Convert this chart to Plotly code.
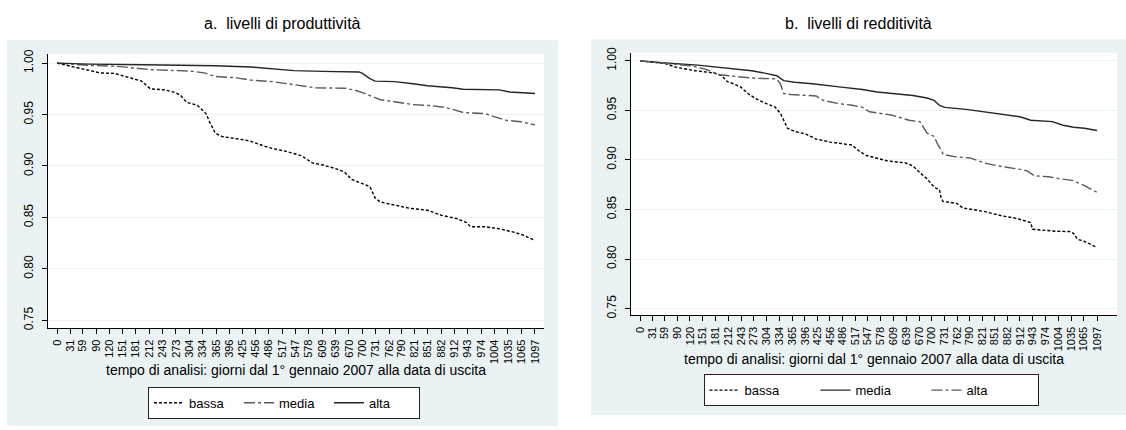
import plotly.graph_objects as go

# ---------------- data ----------------
tick_days = [0, 31, 59, 90, 120, 151, 181, 212, 243, 273, 304, 334, 365, 396, 425, 456,
             486, 517, 547, 578, 609, 639, 670, 700, 731, 762, 790, 821, 851, 882, 912,
             943, 974, 1004, 1035, 1065, 1097]
y_ticks = [0.75, 0.80, 0.85, 0.90, 0.95, 1.00]
y_tick_labels = ["0.75", "0.80", "0.85", "0.90", "0.95", "1.00"]

# panel a: livelli di produttività
a_bassa_days = [0, 66, 99, 132, 165, 194, 214, 247, 272, 285, 297, 322, 342, 350, 363, 379,
                429, 445, 478, 495, 528, 561, 586, 610, 643, 660, 676, 701, 718, 730, 742,
                775, 808, 850, 883, 916, 940, 949, 981, 1015, 1048, 1072, 1097]
a_bassa_vals = [1.0, 0.9937, 0.9905, 0.990, 0.9857, 0.9825, 0.975, 0.974, 0.9714, 0.968,
                0.962, 0.959, 0.951, 0.943, 0.932, 0.9286, 0.9254, 0.924, 0.919, 0.917,
                0.914, 0.910, 0.903, 0.901, 0.897, 0.894, 0.887, 0.883, 0.880, 0.869,
                0.865, 0.862, 0.859, 0.857, 0.852, 0.849, 0.845, 0.841, 0.841, 0.839,
                0.8357, 0.8325, 0.8275]

a_media_days = [0, 74, 140, 214, 280, 313, 338, 363, 412, 445, 495, 528, 569, 594, 660,
                684, 701, 726, 742, 775, 817, 858, 891, 916, 932, 981, 1010, 1031, 1064, 1097]
a_media_vals = [1.0, 0.9978, 0.9968, 0.9937, 0.9927, 0.992, 0.9905, 0.987, 0.9857, 0.9835,
                0.982, 0.980, 0.978, 0.976, 0.9756, 0.9737, 0.9714, 0.967, 0.9644, 0.9625,
                0.9597, 0.9587, 0.957, 0.954, 0.952, 0.951, 0.947, 0.9444, 0.943, 0.940]

a_alta_days = [0, 74, 198, 363, 445, 495, 544, 610, 693, 701, 718, 730, 775, 817, 850,
               907, 932, 1015, 1039, 1097]
a_alta_vals = [1.0, 0.999, 0.9984, 0.9975, 0.9962, 0.9946, 0.9927, 0.992, 0.9914, 0.990,
               0.985, 0.9825, 0.982, 0.980, 0.978, 0.976, 0.9746, 0.974, 0.972, 0.9705]

# panel b: livelli di redditività
b_bassa_days = [0, 60, 88, 133, 178, 196, 210, 225, 242, 259, 277, 302, 324, 337, 345, 354,
                371, 397, 423, 457, 509, 526, 543, 569, 594, 637, 655, 672, 689, 706, 719,
                723, 728, 760, 775, 826, 869, 904, 929, 938, 942, 998, 1033, 1041, 1050,
                1067, 1084, 1097]
b_bassa_vals = [1.0, 0.9973, 0.9934, 0.990, 0.9877, 0.985, 0.979, 0.9768, 0.9735, 0.967,
                0.962, 0.957, 0.9535, 0.947, 0.940, 0.932, 0.9287, 0.9263, 0.921, 0.918,
                0.915, 0.909, 0.9045, 0.902, 0.899, 0.897, 0.894, 0.887, 0.881, 0.8725,
                0.8696, 0.861, 0.858, 0.8562, 0.8515, 0.848, 0.8435, 0.841, 0.838, 0.8367,
                0.830, 0.828, 0.8277, 0.8257, 0.820, 0.8177, 0.8143, 0.8117]

b_media_days = [0, 53, 139, 208, 268, 302, 328, 345, 371, 414, 457, 483, 534, 569, 612,
                655, 689, 706, 719, 732, 783, 826, 869, 912, 938, 964, 990, 1015, 1041,
                1067, 1097]
b_media_vals = [1.0, 0.998, 0.9957, 0.9924, 0.990, 0.9874, 0.985, 0.980, 0.9784, 0.9768,
                0.975, 0.9735, 0.971, 0.9685, 0.9668, 0.965, 0.9625, 0.960, 0.955, 0.953,
                0.951, 0.9486, 0.946, 0.9436, 0.940, 0.9396, 0.9386, 0.935, 0.933, 0.932,
                0.9297]

b_alta_days = [0, 53, 122, 156, 191, 225, 277, 328, 337, 345, 362, 423, 440, 474, 509,
               534, 551, 603, 646, 672, 680, 689, 706, 715, 723, 728, 758, 792, 826, 861,
               912, 929, 947, 981, 1015, 1041, 1067, 1097]
b_alta_vals = [1.0, 0.9977, 0.995, 0.9917, 0.986, 0.9844, 0.9824, 0.9818, 0.9768, 0.967,
               0.966, 0.9645, 0.960, 0.957, 0.9552, 0.953, 0.9486, 0.9453, 0.940, 0.9386,
               0.9336, 0.927, 0.9237, 0.9154, 0.910, 0.9054, 0.9031, 0.902, 0.897, 0.8938,
               0.8905, 0.889, 0.884, 0.883, 0.8806, 0.879, 0.874, 0.8673]

titles = ["a.  livelli di produttività", "b.  livelli di redditività"]
x_title = "tempo di analisi: giorni dal 1° gennaio 2007 alla data di uscita"

# ---------------- styles ----------------
W, H = 1126, 430
FONT = "Liberation Sans, Arial, sans-serif"
BG = "#EAF2F3"
DOT = "3px,2px"
DASHDOT = "11px,3px,3px,3px"


def px(x):
    return x / W


def py(y):
    return 1 - y / H


fig = go.Figure()

series = [
    # (x, y, name, xaxis, yaxis, legend, color, dash)
    (a_bassa_days, a_bassa_vals, "bassa", "x", "y", "legend", "#000000", DOT),
    (a_media_days, a_media_vals, "media", "x", "y", "legend", "#5a5a5a", DASHDOT),
    (a_alta_days, a_alta_vals, "alta", "x", "y", "legend", "#262626", "solid"),
    (b_bassa_days, b_bassa_vals, "bassa", "x2", "y2", "legend2", "#000000", DOT),
    (b_media_days, b_media_vals, "media", "x2", "y2", "legend2", "#262626", "solid"),
    (b_alta_days, b_alta_vals, "alta", "x2", "y2", "legend2", "#5a5a5a", DASHDOT),
]
for xs, ys, name, xa, ya, lg, col, dash in series:
    fig.add_trace(go.Scatter(x=xs, y=ys, name=name, mode="lines", xaxis=xa, yaxis=ya,
                             legend=lg, line=dict(color=col, width=1.4, dash=dash)))

xaxis_common = dict(
    tickmode="array", tickvals=tick_days, ticktext=[str(t) for t in tick_days],
    tickangle=-90, ticks="outside", ticklen=5, tickwidth=1, tickcolor="black",
    showline=True, linecolor="black", linewidth=1, showgrid=False, zeroline=False,
    tickfont=dict(family=FONT, size=11, color="black"), ticklabelstandoff=1,
)
yaxis_common = dict(
    tickmode="array", tickvals=y_ticks, ticktext=y_tick_labels,
    tickangle=-90, ticks="outside", ticklen=5, tickwidth=1, tickcolor="black",
    showline=True, linecolor="black", linewidth=1, showgrid=True, gridcolor=BG,
    gridwidth=1, zeroline=False, ticklabelstandoff=4,
    tickfont=dict(family=FONT, size=12, color="black"),
)

fig.update_layout(
    width=W, height=H, margin=dict(l=0, r=0, t=0, b=0),
    paper_bgcolor="white", plot_bgcolor="white",
    font=dict(family=FONT, color="black"),
    xaxis=dict(domain=[px(48), px(544)], range=[-20.7, 1117.7], anchor="y", **xaxis_common),
    yaxis=dict(domain=[py(329), py(49)], range=[0.7424, 1.0089], anchor="x", **yaxis_common),
    xaxis2=dict(domain=[px(631), px(1117)], range=[-21.6, 1145], anchor="y2", **xaxis_common),
    yaxis2=dict(domain=[py(316), py(47.7)], range=[0.7431, 1.0082], anchor="x2", **yaxis_common),
    legend=dict(orientation="h", x=px(284), xanchor="center", y=py(389), yanchor="top",
                bgcolor="white", bordercolor="#222", borderwidth=1, entrywidth=45,
                font=dict(family=FONT, size=13, color="black"), traceorder="normal"),
    legend2=dict(orientation="h", x=px(871), xanchor="center", y=py(376), yanchor="top",
                 bgcolor="white", bordercolor="#222", borderwidth=1, entrywidth=66,
                 font=dict(family=FONT, size=13, color="black"), traceorder="normal"),
    showlegend=True,
)

# panel backgrounds and white plot regions
fig.add_shape(type="rect", xref="paper", yref="paper", x0=px(7), x1=px(558),
              y0=py(429), y1=py(35), fillcolor=BG, line=dict(width=0), layer="below")
fig.add_shape(type="rect", xref="paper", yref="paper", x0=px(591), x1=px(1126),
              y0=py(418), y1=py(34), fillcolor=BG, line=dict(width=0), layer="below")
for xr, yr in (("x domain", "y domain"), ("x2 domain", "y2 domain")):
    fig.add_shape(type="rect", xref=xr, yref=yr, x0=0, x1=1, y0=0, y1=1,
                  fillcolor="white", line=dict(width=0), layer="below")

# titles
fig.add_annotation(text=titles[0], xref="paper", yref="paper", x=px(282), y=py(18),
                   showarrow=False, xanchor="center", yanchor="middle",
                   font=dict(family=FONT, size=16, color="black"))
fig.add_annotation(text=titles[1], xref="paper", yref="paper", x=px(858), y=py(18),
                   showarrow=False, xanchor="center", yanchor="middle",
                   font=dict(family=FONT, size=16, color="black"))
# axis titles
fig.add_annotation(text=x_title, xref="paper", yref="paper", x=px(296), y=py(372),
                   showarrow=False, xanchor="center", yanchor="middle",
                   font=dict(family=FONT, size=14, color="black"))
fig.add_annotation(text=x_title, xref="paper", yref="paper", x=px(874), y=py(361),
                   showarrow=False, xanchor="center", yanchor="middle",
                   font=dict(family=FONT, size=14, color="black"))

fig.write_html("out.html", config={"displayModeBar": False},
               post_script="document.body.style.margin='0px';")
